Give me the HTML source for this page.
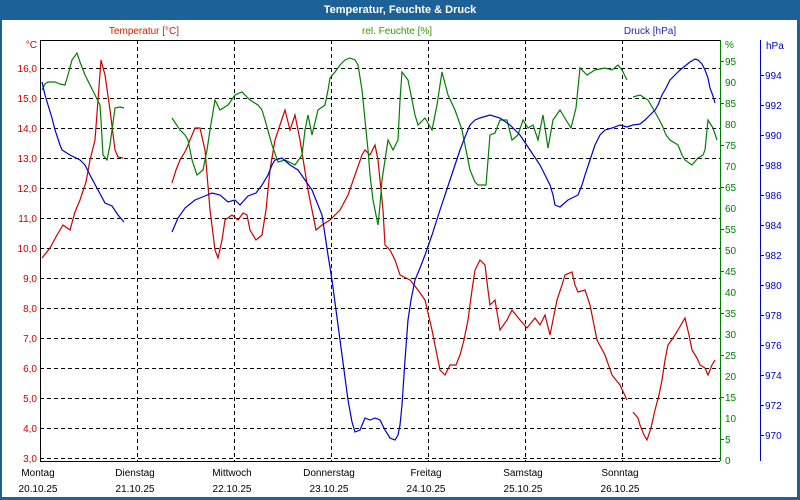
<!DOCTYPE html>
<html><head><meta charset="utf-8"><style>
body{margin:0;background:#fff}
svg{display:block;font-family:"Liberation Sans",Tahoma,sans-serif;font-size:10px}
</style></head><body>
<svg width="800" height="500" xmlns="http://www.w3.org/2000/svg">
<rect x="0" y="0" width="800" height="500" fill="#1c6198"/>
<rect x="2" y="20" width="795" height="477" fill="#fff"/>
<text x="400" y="13" fill="#fff" font-weight="bold" font-size="11" text-anchor="middle">Temperatur, Feuchte &amp; Druck</text>
<text x="144" y="34" fill="#cc2200" text-anchor="middle">Temperatur [°C]</text>
<text x="397" y="34" fill="#339900" text-anchor="middle">rel. Feuchte [%]</text>
<text x="650" y="34" fill="#2222cc" text-anchor="middle">Druck [hPa]</text>
<g stroke="#000" stroke-dasharray="4,3" stroke-width="1">
<path d="M40 68.5H720M40 98.5H720M40 128.5H720M40 158.5H720M40 188.5H720M40 218.5H720M40 248.5H720M40 278.5H720M40 308.5H720M40 338.5H720M40 368.5H720M40 398.5H720M40 428.5H720M40 458.5H720"/>
<path d="M137.5 40V462M234.5 40V462M331.5 40V462M428.5 40V462M525.5 40V462M622.5 40V462"/>
</g>
<path d="M40.5 40V461.5H720M40 40.5H720" stroke="#000" fill="none"/>
<path d="M720.5 40V461" stroke="#008000"/>
<path d="M760.5 40V461" stroke="#0000cc"/>
<g fill="#cc0000" text-anchor="end">
<text x="37" y="48">°C</text>
<text x="37" y="72">16,0</text><text x="37" y="102">15,0</text><text x="37" y="132">14,0</text><text x="37" y="162">13,0</text><text x="37" y="192">12,0</text><text x="37" y="222">11,0</text><text x="37" y="252">10,0</text><text x="37" y="282">9,0</text><text x="37" y="312">8,0</text><text x="37" y="342">7,0</text><text x="37" y="372">6,0</text><text x="37" y="402">5,0</text><text x="37" y="432">4,0</text><text x="37" y="462">3,0</text>
</g>
<g fill="#008000">
<text x="725" y="48">%</text>
<text x="725" y="65">95</text><text x="725" y="86">90</text><text x="725" y="107">85</text><text x="725" y="128">80</text><text x="725" y="149">75</text><text x="725" y="170">70</text><text x="725" y="191">65</text><text x="725" y="212">60</text><text x="725" y="233">55</text><text x="725" y="254">50</text><text x="725" y="275">45</text><text x="725" y="296">40</text><text x="725" y="317">35</text><text x="725" y="338">30</text><text x="725" y="359">25</text><text x="725" y="380">20</text><text x="725" y="401">15</text><text x="725" y="422">10</text><text x="725" y="443">5</text><text x="725" y="464">0</text>
</g>
<g stroke="#008000"><path d="M720 61.5h4M720 103.5h4M720 145.5h4M720 187.5h4M720 229.5h4M720 271.5h4M720 313.5h4M720 355.5h4M720 397.5h4M720 439.5h4"/></g>
<g fill="#0000cc">
<text x="766" y="49">hPa</text>
<text x="765" y="79">994</text><text x="765" y="109">992</text><text x="765" y="139">990</text><text x="765" y="169">988</text><text x="765" y="199">986</text><text x="765" y="229">984</text><text x="765" y="259">982</text><text x="765" y="289">980</text><text x="765" y="319">978</text><text x="765" y="349">976</text><text x="765" y="379">974</text><text x="765" y="409">972</text><text x="765" y="439">970</text>
</g>
<g stroke="#0000cc"><path d="M760 75.5h4M760 105.5h4M760 135.5h4M760 165.5h4M760 195.5h4M760 225.5h4M760 255.5h4M760 285.5h4M760 315.5h4M760 345.5h4M760 375.5h4M760 405.5h4M760 435.5h4"/></g>
<g fill="#000" text-anchor="middle">
<text x="38" y="476">Montag</text><text x="38" y="492">20.10.25</text>
<text x="135" y="476">Dienstag</text><text x="135" y="492">21.10.25</text>
<text x="232" y="476">Mittwoch</text><text x="232" y="492">22.10.25</text>
<text x="329" y="476">Donnerstag</text><text x="329" y="492">23.10.25</text>
<text x="426" y="476">Freitag</text><text x="426" y="492">24.10.25</text>
<text x="523" y="476">Samstag</text><text x="523" y="492">25.10.25</text>
<text x="620" y="476">Sonntag</text><text x="620" y="492">26.10.25</text>
</g>
<g fill="none" stroke-width="1.2">
<g stroke="#cc0000">
<polyline points="42,258 50,248 57,235 63,225 70,230 75,212 80,200 86,182 90,160 95,140 98,100 101,60 105,75 110,110 115,150 118,157 123,158"/>
<polyline points="172,183 176,170 180,160 186,150 190,140 195,128 200,128 205,150 210,210 215,250 218,258 222,240 225,220 232,215 238,220 243,213 247,215 250,230 256,240 262,235 266,210 270,170 275,140 280,125 285,110 290,130 295,115 300,140 304,165 308,190 312,210 316,230 322,225 330,220 340,210 348,195 355,175 362,155 365,150 370,155 375,145 378,160 380,180 383,210 385,245 390,250 395,260 400,275 410,280 418,290 425,300 432,330 436,350 440,370 445,375 450,365 456,365 460,355 464,340 468,320 472,290 475,270 480,260 485,265 488,290 490,305 495,300 500,330 507,320 512,310 520,320 527,328 535,318 540,325 545,315 550,335 555,310 557,300 562,285 565,275 572,272 575,285 578,292 585,290 590,305 594,325 597,340 605,355 612,375 620,385 627,400"/>
<polyline points="633,412 638,418 640,425 644,435 647,440 651,428 655,410 659,395 662,380 665,360 668,345 673,338 678,330 685,318 689,335 692,350 697,358 700,365 705,368 708,375 712,365 715,360"/>
</g>
<g stroke="#008000">
<polyline points="42,90 45,84 48,82 55,82 60,84 65,85 68,75 72,60 77,53 80,62 85,75 90,85 95,95 100,105 101,120 103,155 107,160 110,145 112,130 115,108 120,107 124,108"/>
<polyline points="172,118 176,124 180,130 185,135 188,140 192,160 197,175 203,170 207,150 210,130 215,100 220,110 228,105 235,95 242,92 250,100 258,105 262,110 265,120 272,145 278,162 285,160 295,165 302,155 305,130 308,115 312,135 318,110 325,105 328,90 330,78 335,72 340,65 345,60 350,58 355,60 358,65 362,90 365,120 368,150 370,175 373,200 378,225 380,205 382,180 385,160 388,140 393,150 398,140 400,100 402,72 408,80 412,100 415,115 418,125 425,118 432,130 437,105 440,85 442,72 448,95 455,110 462,130 466,150 470,170 475,182 478,185 486,185 488,160 490,135 495,133 500,120 507,120 512,140 518,135 523,120 528,128 533,125 538,140 543,115 548,148 553,120 560,110 566,120 571,128 576,108 580,68 587,75 595,70 605,68 612,70 618,65 622,70 627,80"/>
<polyline points="633,97 640,95 648,100 655,112 662,125 666,135 670,140 678,145 682,155 685,160 692,165 698,158 703,155 705,150 707,130 708,120 713,128 717,140"/>
</g>
<g stroke="#0000cc">
<polyline points="42,82 45,95 48,105 52,118 55,130 60,145 62,150 70,155 80,160 85,165 90,175 98,190 105,203 112,206 118,215 124,222"/>
<polyline points="172,232 175,225 178,218 185,208 195,200 205,196 212,193 220,195 228,202 235,200 240,205 248,196 256,193 262,185 268,175 272,165 275,160 282,158 290,165 298,170 305,180 312,190 318,205 322,215 325,235 328,255 332,280 336,310 340,340 344,370 348,400 352,422 355,432 360,430 365,418 370,420 375,418 380,420 385,430 390,438 395,440 398,435 400,425 402,405 403,390 405,360 408,320 411,300 415,280 420,268 425,255 432,235 440,210 445,195 450,180 455,165 460,150 465,137 470,125 475,120 480,118 490,115 500,118 510,125 520,135 530,150 540,165 545,175 550,185 553,195 555,205 560,207 568,200 578,195 582,185 585,175 590,160 595,145 600,135 605,130 612,128 620,125 627,127 633,125 640,124 645,120 650,115 655,110 658,105 662,95 666,88 670,80 675,75 680,70 685,66 690,62 695,59 698,60 702,64 705,70 708,78 710,88 713,96 715,103"/>
</g>
</g>
</svg>
</body></html>
